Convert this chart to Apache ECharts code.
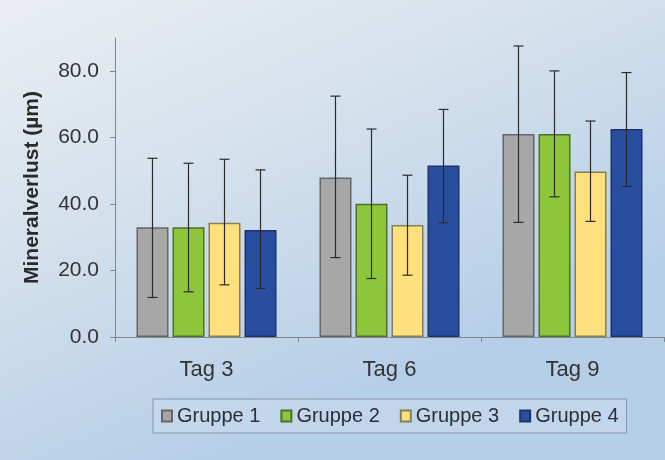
<!DOCTYPE html>
<html>
<head>
<meta charset="utf-8">
<script src="https://cdn.jsdelivr.net/npm/echarts@6/dist/echarts.min.js"></script>
<style>
html,body{margin:0;padding:0;}
#c{width:665px;height:460px;}
</style>
</head>
<body>
<div id="c"></div>
<script>
const categories = ['Tag 3', 'Tag 6', 'Tag 9'];
const groupNames = ['Gruppe 1', 'Gruppe 2', 'Gruppe 3', 'Gruppe 4'];
const yTicks = ['0.0', '20.0', '40.0', '60.0', '80.0'];

const g1 = [33.0, 48.0, 61.1];
const g1Low = [11.9, 23.9, 34.5];
const g1High = [53.8, 72.5, 87.6];

const g2 = [33.0, 40.1, 61.1];
const g2Low = [13.6, 17.6, 42.2];
const g2High = [52.3, 62.6, 80.1];

const g3 = [34.4, 33.7, 49.8];
const g3Low = [15.7, 18.6, 34.8];
const g3High = [53.5, 48.7, 65.0];

const g4 = [32.2, 51.6, 62.6];
const g4Low = [14.6, 34.4, 45.3];
const g4High = [50.3, 68.5, 79.6];

const values = [g1, g2, g3, g4];
const lows = [g1Low, g2Low, g3Low, g4Low];
const highs = [g1High, g2High, g3High, g4High];

const fills = ['#a7a7a7', '#8dc63a', '#ffe07c', '#2a4e9f'];
const borders = ['#666666', '#4f6f2a', '#867f55', '#1c336e'];

const FONT = "'Liberation Sans', Arial, sans-serif";
const BAR_W = 32, BAR_STEP = 36;

const series = [];
groupNames.forEach((name, i) => {
  series.push({
    name: name,
    type: 'bar',
    data: values[i],
    barWidth: BAR_W,
    barGap: '12.5%',
    itemStyle: { color: fills[i], borderColor: borders[i], borderWidth: 1.5 },
    z: 2
  });
});
groupNames.forEach((name, i) => {
  const offset = (i - 1.5) * BAR_STEP;
  series.push({
    name: 'err' + i,
    type: 'custom',
    z: 5,
    data: categories.map((c, k) => [k, lows[i][k], highs[i][k]]),
    renderItem: function (params, api) {
      const lo = api.coord([api.value(0), api.value(1)]);
      const hi = api.coord([api.value(0), api.value(2)]);
      const x = lo[0] + offset;
      const cap = 5;
      const style = { stroke: '#2b2b2b', lineWidth: 1.2 };
      return {
        type: 'group',
        children: [
          { type: 'line', shape: { x1: x, y1: lo[1], x2: x, y2: hi[1] }, style: style },
          { type: 'line', shape: { x1: x - cap, y1: hi[1], x2: x + cap, y2: hi[1] }, style: style },
          { type: 'line', shape: { x1: x - cap, y1: lo[1], x2: x + cap, y2: lo[1] }, style: style }
        ]
      };
    }
  });
});

const chart = echarts.init(document.getElementById('c'), null, { renderer: 'canvas' });
chart.setOption({
  animation: false,
  backgroundColor: {
    type: 'linear', x: 0, y: 0, x2: 0.3, y2: 1,
    colorStops: [
      { offset: 0, color: '#eaeef2' },
      { offset: 0.5, color: '#d3e0ec' },
      { offset: 1, color: '#b6cfe8' }
    ]
  },
  textStyle: { fontFamily: FONT },
  grid: { left: 115, right: 1, top: 38, bottom: 123, containLabel: false },
  legend: {
    data: groupNames,
    left: 153,
    top: 399,
    itemWidth: 10,
    itemHeight: 11,
    itemGap: 20,
    padding: [7, 8, 7, 8],
    borderColor: '#8495ab',
    borderWidth: 1,
    backgroundColor: 'rgba(205,222,238,0.5)',
    icon: 'rect',
    textStyle: { fontSize: 20, color: '#2a2f3a', fontFamily: FONT }
  },
  xAxis: {
    type: 'category',
    data: categories,
    axisLine: { lineStyle: { color: '#7d8790', width: 1 } },
    axisTick: { show: true, length: 5, lineStyle: { color: '#7d8790' } },
    axisLabel: { fontSize: 22, color: '#333', margin: 22, fontFamily: FONT }
  },
  yAxis: {
    type: 'value',
    min: 0,
    max: 90,
    interval: 20,
    name: 'Mineralverlust (µm)',
    nameLocation: 'middle',
    nameGap: 72,
    nameTextStyle: { fontSize: 21, fontWeight: 'bold', color: '#2a2a2a', fontFamily: FONT },
    axisLine: { show: true, lineStyle: { color: '#7d8790', width: 1 } },
    axisTick: { show: true, length: 5, lineStyle: { color: '#7d8790' } },
    splitLine: { show: false },
    axisLabel: {
      fontSize: 21, color: '#333', margin: 16, fontFamily: FONT,
      showMaxLabel: false,
      formatter: function (v) { const idx = Math.round(v / 20); return (v % 20 === 0 && yTicks[idx]) ? yTicks[idx] : ''; }
    }
  },
  series: series
});
</script>
</body>
</html>
